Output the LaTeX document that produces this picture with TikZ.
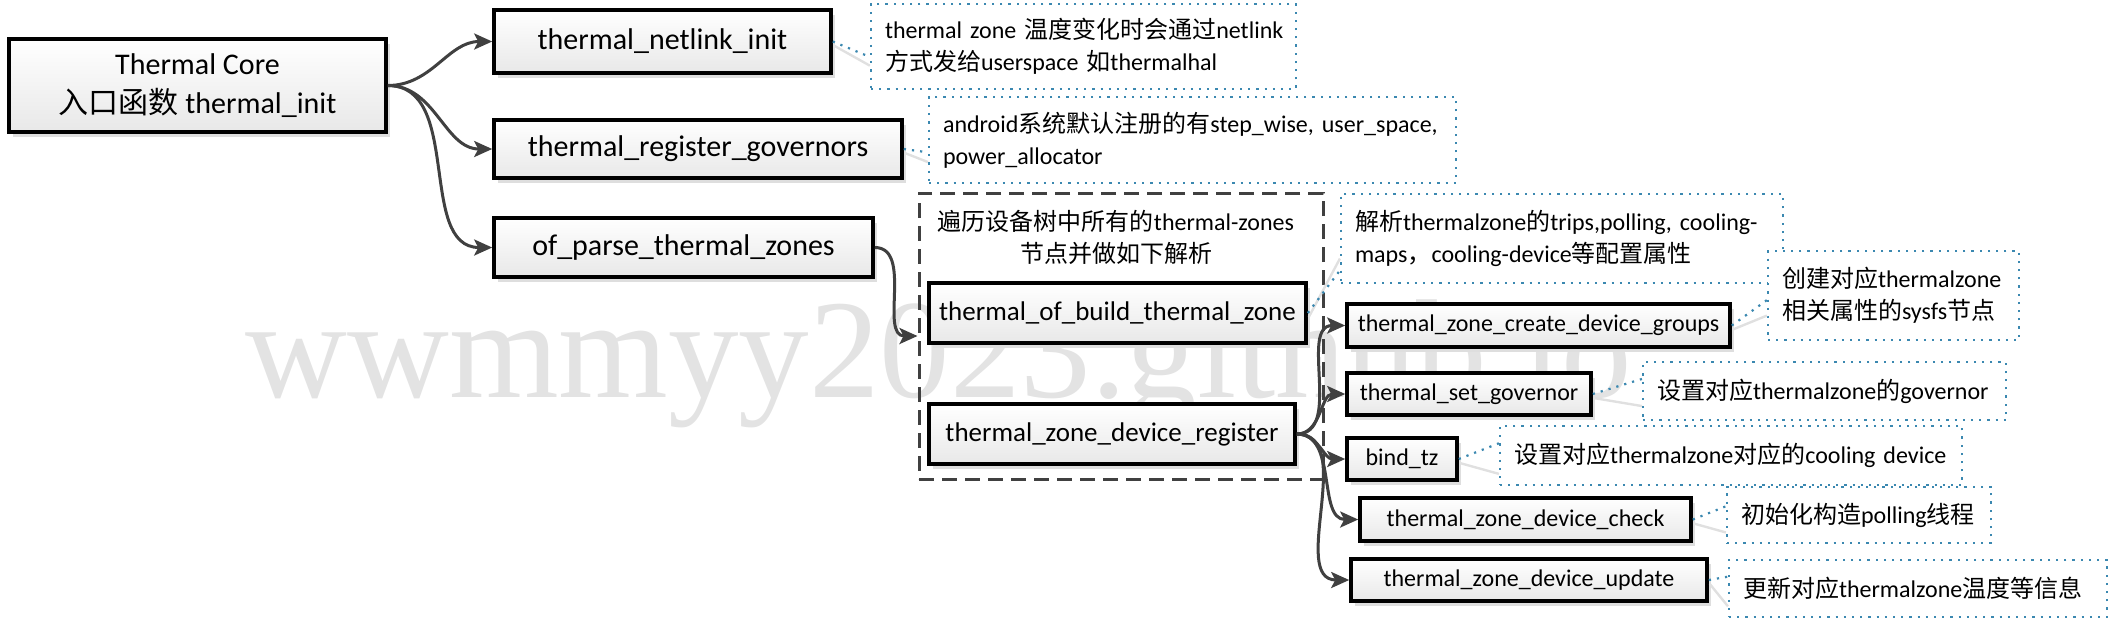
\documentclass[tikz,border=0pt]{standalone}
\usepackage{fontspec}
\setmainfont{Carlito}
\newfontfamily\cjk{Noto Sans CJK SC}
\newfontfamily\wmfont{Liberation Serif}
\newcommand{\zh}[1]{{\cjk #1}}
\usetikzlibrary{arrows.meta,shadows,calc}
\definecolor{conn}{HTML}{404040}
\definecolor{notec}{HTML}{3B88B0}
\definecolor{wmc}{HTML}{E3E3E3}
\tikzset{
  fbox/.style={draw=black, line width=1.8pt, top color=white, bottom color=black!9,
    drop shadow={shadow xshift=2pt, shadow yshift=-2.5pt, fill=black!13, opacity=1},
    inner sep=0pt, align=center},
  bigtxt/.style={font=\fontsize{15}{19.5}\selectfont},
  midtxt/.style={font=\fontsize{13.5}{16}\selectfont},
  smalltxt/.style={font=\fontsize{12}{16}\selectfont},
  note/.style={draw=notec, line width=1.1pt, dash pattern=on 1.1pt off 3pt, fill=white,
    align=left, inner xsep=7pt, inner ysep=0pt, font=\fontsize{12}{16}\selectfont},
  grpbox/.style={draw=conn, line width=1.5pt, dash pattern=on 7.5pt off 4pt, inner sep=0pt},
  flow/.style={draw=conn, line width=1.5pt, -{Stealth[length=9pt,width=8pt,inset=2pt]}},
  callout/.style={draw=notec, line width=1.1pt, dash pattern=on 1.1pt off 3pt},
  calloutsh/.style={draw=black!12, line width=1.2pt},
  wmark/.style={font=\wmfont\fontsize{70.5}{70.5}\selectfont, text=wmc, inner sep=0pt}
}
\begin{document}
\begin{tikzpicture}[x=0.5pt,y=-0.5pt]
\useasboundingbox (0,0) rectangle (2120,629);
\node[wmark, anchor=base west] (wm) at (245,397) {wwmmyy2023.github.io};

% main boxes
\node[fbox, bigtxt, minimum width=188.5pt, minimum height=46.5pt] (core) at (197.5,85.5)
  {Thermal Core\\\zh{入口函数} thermal\_init};
\node[fbox, bigtxt, minimum width=168.5pt, minimum height=31.5pt] (netlink) at (662.5,41.5) {thermal\_netlink\_init};
\node[fbox, bigtxt, minimum width=204pt, minimum height=29pt] (govs) at (698,149) {thermal\_register\_governors};
\node[fbox, bigtxt, minimum width=189.5pt, minimum height=29.5pt] (parse) at (683.5,247.5) {of\_parse\_thermal\_zones};

% container
\node[grpbox, minimum width=202pt, minimum height=143pt] (grp) at (1121,336) {};
\node[smalltxt, align=center, inner sep=0pt] (title) at (1116,237.5)
  {\zh{遍历设备树中所有的}thermal-zones\\\zh{节点并做如下解析}};
\node[fbox, midtxt, minimum width=188.5pt, minimum height=30pt] (build) at (1117.5,313) {thermal\_of\_build\_thermal\_zone};
\node[fbox, midtxt, minimum width=183pt, minimum height=30pt] (register) at (1112,434) {thermal\_zone\_device\_register};

% right boxes
\node[fbox, smalltxt, minimum width=191.5pt, minimum height=21.5pt] (groups) at (1538.5,325.5) {thermal\_zone\_create\_device\_groups};
\node[fbox, smalltxt, minimum width=122pt, minimum height=21pt] (setgov) at (1469,394) {thermal\_set\_governor};
\node[fbox, smalltxt, minimum width=55pt, minimum height=21pt] (bindtz) at (1402,459) {bind\_tz};
\node[fbox, smalltxt, minimum width=165.5pt, minimum height=21.5pt] (check) at (1525.5,519.5) {thermal\_zone\_device\_check};
\node[fbox, smalltxt, minimum width=178pt, minimum height=21pt] (update) at (1529,580) {thermal\_zone\_device\_update};

% annotations
\node[note, minimum width=212.5pt, minimum height=42.5pt, text width=198.5pt] (A1) at (1083.5,46.5)
  {\mbox{thermal zone \zh{温度变化时会通过}netlink}\\\mbox{\zh{方式发给}userspace \zh{如}thermalhal}};
\node[note, minimum width=263.5pt, minimum height=43pt, text width=249.5pt] (A2) at (1192.5,140)
  {\mbox{android\zh{系统默认注册的有}step\_wise, user\_space,}\\\mbox{power\_allocator}};
\node[note, minimum width=221pt, minimum height=44.5pt, text width=207pt] (A3) at (1562,238.5)
  {\mbox{\zh{解析}thermalzone\zh{的}trips,polling, cooling-}\\\mbox{maps\zh{，}cooling-device\zh{等配置属性}}};
\node[note, minimum width=125.5pt, minimum height=44.5pt, text width=111.5pt] (A4) at (1893.5,295.5)
  {\mbox{\zh{创建对应}thermalzone}\\\mbox{\zh{相关属性的}sysfs\zh{节点}}};
\node[note, minimum width=181.5pt, minimum height=29pt, text width=167.5pt] (A5) at (1824.5,391)
  {\mbox{\zh{设置对应}thermalzone\zh{的}governor}};
\node[note, minimum width=231pt, minimum height=29.5pt, text width=217pt] (A6) at (1731,455.5)
  {\mbox{\zh{设置对应}thermalzone\zh{对应的}cooling device}};
\node[note, minimum width=132pt, minimum height=28pt, text width=118pt] (A7) at (1859,515)
  {\mbox{\zh{初始化构造}polling\zh{线程}}};
\node[note, minimum width=189pt, minimum height=28.5pt, text width=175pt] (A8) at (1918,588.5)
  {\mbox{\zh{更新对应}thermalzone\zh{温度等信息}}};

% callout connectors
\draw[calloutsh] ([shift={(1,4)}]netlink.east) -- ($(A1.north west)!0.72!(A1.south west)$);
\draw[callout] (netlink.east) -- ($(A1.north west)!0.62!(A1.south west)$);
\draw[calloutsh] ([shift={(1,4)}]govs.east) -- ($(A2.north west)!0.75!(A2.south west)$);
\draw[callout] (govs.east) -- ($(A2.north west)!0.64!(A2.south west)$);
\draw[calloutsh] ([shift={(1,4)}]build.east) -- ($(A3.north west)!0.72!(A3.south west)$);
\draw[callout] (build.east) -- ($(A3.north west)!0.85!(A3.south west)$);
\draw[calloutsh] ([shift={(1,4)}]groups.east) -- ($(A4.north west)!0.72!(A4.south west)$);
\draw[callout] (groups.east) -- ($(A4.north west)!0.55!(A4.south west)$);
\draw[calloutsh] ([shift={(1,4)}]setgov.east) -- ($(A5.north west)!0.75!(A5.south west)$);
\draw[callout] (setgov.east) -- ($(A5.north west)!0.3!(A5.south west)$);
\draw[calloutsh] ([shift={(1,4)}]bindtz.east) -- ($(A6.north west)!0.8!(A6.south west)$);
\draw[callout] (bindtz.east) -- ($(A6.north west)!0.3!(A6.south west)$);
\draw[calloutsh] ([shift={(1,4)}]check.east) -- ($(A7.north west)!0.8!(A7.south west)$);
\draw[callout] (check.east) -- ($(A7.north west)!0.35!(A7.south west)$);
\draw[calloutsh] ([shift={(1,4)}]update.east) -- ($(A8.north west)!0.8!(A8.south west)$);
\draw[callout] (update.east) -- ($(A8.north west)!0.3!(A8.south west)$);

% flow connectors
\draw[flow] (core.east) to[out=0,in=180] (netlink.west);
\draw[flow] (core.east) to[out=0,in=180] (govs.west);
\draw[flow] (core.east) to[out=0,in=180] (parse.west);
\draw[flow] (parse.east) to[out=0,in=180] (grp.west);
\draw[flow] (register.east) to[out=0,in=180] (groups.west);
\draw[flow] (register.east) to[out=0,in=180] (setgov.west);
\draw[flow] (register.east) to[out=0,in=180] (bindtz.west);
\draw[flow] (register.east) to[out=0,in=180] (check.west);
\draw[flow] (register.east) to[out=0,in=180] (update.west);
\end{tikzpicture}
\end{document}
